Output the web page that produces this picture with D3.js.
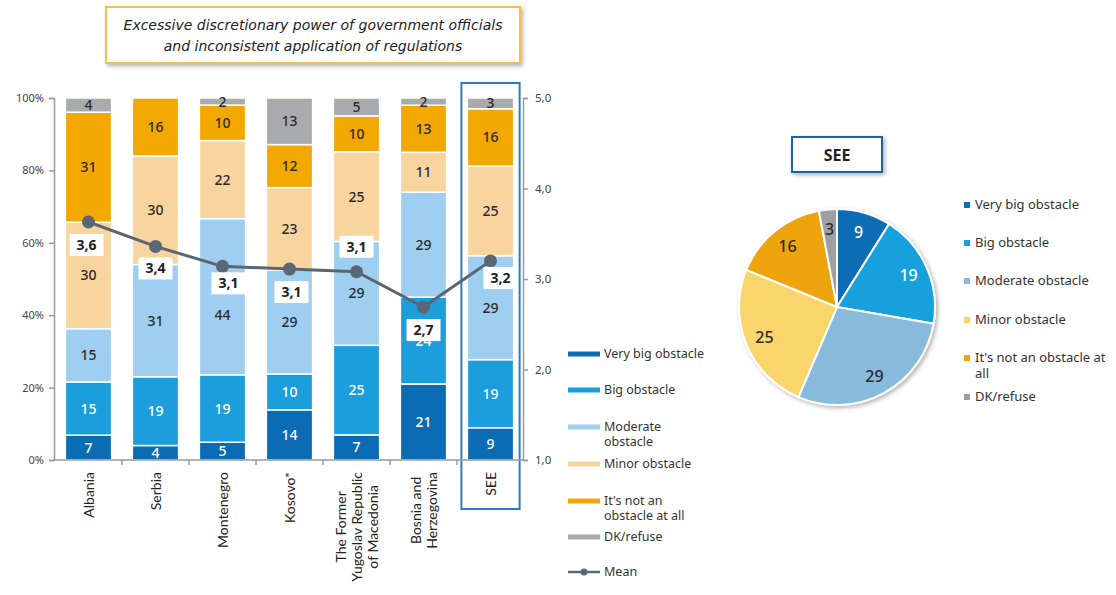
<!DOCTYPE html>
<html>
<head>
<meta charset="utf-8">
<script src="https://cdn.jsdelivr.net/npm/d3@7"></script>
<style>
  body { margin: 0; background: #fff; }
  svg { display: block; }
  text { font-family: "Noto Sans", sans-serif; fill: #333; }
  .axis path, .axis line { stroke: #9a9a9a; stroke-width: 1.5; }
  .axis text { font-size: 11px; fill: #444; }
</style>
</head>
<body>
<div id="chart"></div>
<script>
// countries on the x axis ("\n" = line break)
var countries = ["Albania", "Serbia", "Montenegro", "Kosovo*",
  "The Former\nYugoslav Republic\nof Macedonia", "Bosnia and\nHerzegovina", "SEE"];

var categories = ["Very big obstacle", "Big obstacle", "Moderate obstacle",
  "Minor obstacle", "It's not an obstacle at all", "DK/refuse"];

// series values (percent of respondents)
var veryBig     = [7, 4, 5, 14, 7, 21, 9];
var big         = [15, 19, 19, 10, 25, 24, 19];
var moderate    = [15, 31, 44, 29, 29, 29, 29];
var minor       = [30, 30, 22, 23, 25, 11, 25];
var notObstacle = [31, 16, 10, 12, 10, 13, 16];
var dkRefuse    = [4, 0, 2, 13, 5, 2, 3];

// mean score (right axis, 1-5)
var means = [3.63, 3.36, 3.14, 3.11, 3.08, 2.69, 3.2];

var pctTicks = [0, 0.2, 0.4, 0.6, 0.8, 1];
var meanTicks = [1, 2, 3, 4, 5];

var barColors = ["#0b6bb3", "#1b9edb", "#9ecff0", "#f8d59e", "#f2a800", "#a8aaad"];
var pieColors = ["#0f6db4", "#18a1dc", "#88badc", "#f9d56c", "#eea40f", "#9d9fa2"];

var series = [veryBig, big, moderate, minor, notObstacle, dkRefuse];

var rows = countries.map(function(c, i) {
  var r = { country: c, mean: means[i] };
  categories.forEach(function(k, j) { r[k] = series[j][i]; });
  return r;
});

var width = 1116, height = 595;
var svg = d3.select("#chart").append("svg")
  .attr("width", width)
  .attr("height", height);

var defs = svg.append("defs");
var shadow = defs.append("filter").attr("id", "shadow")
  .attr("x", "-20%").attr("y", "-20%").attr("width", "140%").attr("height", "140%");
shadow.append("feDropShadow").attr("dx", 2).attr("dy", 2)
  .attr("stdDeviation", 2).attr("flood-opacity", 0.3);

// ---- title box
svg.append("rect")
  .attr("x", 106).attr("y", 7).attr("width", 414).attr("height", 56)
  .attr("fill", "#fff").attr("stroke", "#f0c24a").attr("stroke-width", 2)
  .attr("filter", "url(#shadow)");

["Excessive discretionary power of government officials",
 "and inconsistent application of regulations"].forEach(function(l, i) {
  svg.append("text")
    .attr("x", 313).attr("y", 30 + i * 21)
    .attr("text-anchor", "middle")
    .style("font-family", "'DejaVu Sans', sans-serif")
    .style("font-size", "14px").style("font-style", "italic")
    .style("fill", "#222")
    .text(l);
});

// ---- scales
var plotTop = 98, plotBottom = 460, plotLeft = 54, plotRight = 523;

var xScale = d3.scaleBand()
  .domain(countries)
  .range([plotLeft + 1, plotRight + 1])
  .paddingInner(0.31)
  .paddingOuter(0.155);

var yScale = d3.scaleLinear().domain([0, 1]).range([plotBottom, plotTop]);
var yMean = d3.scaleLinear().domain([1, 5]).range([plotBottom, plotTop]);

var stack = d3.stack().keys(categories).offset(d3.stackOffsetExpand);
var stacked = stack(rows);

// ---- highlight box around SEE
svg.append("rect")
  .attr("x", xScale("SEE") - 6).attr("y", 83)
  .attr("width", xScale.bandwidth() + 12).attr("height", 426)
  .attr("fill", "none").attr("stroke", "#2d7cc0").attr("stroke-width", 2);

// ---- bars
var layer = svg.selectAll(".layer")
  .data(stacked)
  .enter().append("g")
  .attr("class", "layer")
  .attr("fill", function(d, i) { return barColors[i]; });

layer.selectAll("rect")
  .data(function(d) { return d; })
  .enter().append("rect")
  .attr("x", function(d) { return xScale(d.data.country); })
  .attr("y", function(d) { return yScale(d[1]); })
  .attr("width", xScale.bandwidth())
  .attr("height", function(d) { return Math.max(0, yScale(d[0]) - yScale(d[1])); })
  .attr("stroke", "#fff")
  .attr("stroke-width", 1.5);

// label nudges where the mean label sits on top of a segment label
var labelNudge = { "Montenegro|Moderate obstacle": 18 };

layer.each(function(s, i) {
  d3.select(this).selectAll("text")
    .data(s.filter(function(d) { return d.data[s.key] > 0; }))
    .enter().append("text")
    .attr("x", function(d) { return xScale(d.data.country) + xScale.bandwidth() / 2; })
    .attr("y", function(d) {
      var n = labelNudge[d.data.country + "|" + s.key] || 0;
      return (yScale(d[0]) + yScale(d[1])) / 2 + 5 + n;
    })
    .attr("text-anchor", "middle")
    .style("font-size", "14px")
    .style("font-weight", 500)
    .style("fill", i < 2 ? "#fff" : "#2b2b2b")
    .text(function(d) { return d.data[s.key]; });
});

// ---- axes
var yAxis = d3.axisLeft(yScale)
  .tickValues(pctTicks)
  .tickSize(5)
  .tickFormat(d3.format(".0%"));
svg.append("g")
  .attr("class", "axis")
  .attr("transform", "translate(" + plotLeft + ",0)")
  .call(yAxis)
  .call(function(g) { g.selectAll("text").attr("x", -10); });

var yAxisRight = d3.axisRight(yMean)
  .tickValues(meanTicks)
  .tickSize(5)
  .tickFormat(function(d) { return d3.format(".1f")(d).replace(".", ","); });
svg.append("g")
  .attr("class", "axis")
  .attr("transform", "translate(" + plotRight + ",0)")
  .call(yAxisRight)
  .call(function(g) { g.selectAll("text").attr("x", 12).style("font-size", "11.5px"); });

var xAxis = svg.append("g")
  .attr("class", "axis")
  .attr("transform", "translate(0," + plotBottom + ")");
xAxis.append("line")
  .attr("x1", plotLeft).attr("x2", plotRight)
  .attr("stroke", "#9a9a9a").attr("stroke-width", 1.5);
xAxis.selectAll(".tick")
  .data(countries.slice(1))
  .enter().append("line")
  .attr("x1", function(d) { return xScale(d) - xScale.step() * xScale.paddingInner() / 2; })
  .attr("x2", function(d) { return xScale(d) - xScale.step() * xScale.paddingInner() / 2; })
  .attr("y1", 0).attr("y2", 5)
  .attr("stroke", "#9a9a9a").attr("stroke-width", 1.5);

// rotated, possibly multi-line country labels
countries.forEach(function(c) {
  var lines = c.split("\n");
  var cx = xScale(c) + xScale.bandwidth() / 2;
  var t = svg.append("text")
    .attr("transform", "translate(" + cx + ",472) rotate(-90)")
    .attr("text-anchor", "middle")
    .style("font-family", "Lato, sans-serif")
    .style("font-size", "14px")
    .style("fill", "#222");
  var spans = lines.map(function(l, i) {
    return t.append("tspan")
      .attr("y", 5 + (i - (lines.length - 1) / 2) * 16)
      .text(l);
  });
  var maxLen = d3.max(spans, function(s) { return s.node().getComputedTextLength(); });
  spans.forEach(function(s) { s.attr("x", -maxLen / 2); });
});

// ---- mean line
var meanDx = [-2, 0, 6, 2, 0, 0, 10];
var meanDy = [23, 22, 17, 23, -25, 23, 17];

var line = d3.line()
  .x(function(d) { return xScale(d.country) + xScale.bandwidth() / 2; })
  .y(function(d) { return yMean(d.mean); });

svg.append("path")
  .datum(rows)
  .attr("d", line)
  .attr("fill", "none")
  .attr("stroke", "#5b6674")
  .attr("stroke-width", 3);

svg.selectAll(".meanDot")
  .data(rows)
  .enter().append("circle")
  .attr("class", "meanDot")
  .attr("cx", function(d) { return xScale(d.country) + xScale.bandwidth() / 2; })
  .attr("cy", function(d) { return yMean(d.mean); })
  .attr("r", 6.5)
  .attr("fill", "#5b6674");

var meanLabel = svg.selectAll(".meanLabel")
  .data(rows)
  .enter().append("g")
  .attr("class", "meanLabel")
  .attr("transform", function(d, i) {
    var x = xScale(d.country) + xScale.bandwidth() / 2 + meanDx[i];
    var y = yMean(d.mean) + meanDy[i];
    return "translate(" + x + "," + y + ")";
  });
meanLabel.append("rect")
  .attr("x", -17).attr("y", -11).attr("width", 34).attr("height", 22)
  .attr("fill", "#fff");
meanLabel.append("text")
  .attr("y", 5)
  .attr("text-anchor", "middle")
  .style("font-size", "14px").style("font-weight", "bold")
  .style("fill", "#222")
  .text(function(d) { return d3.format(".1f")(d.mean).replace(".", ","); });

// ---- middle legend
var legendItems = [
  { lines: ["Very big obstacle"], y: 354 },
  { lines: ["Big obstacle"], y: 390 },
  { lines: ["Moderate", "obstacle"], y: 427 },
  { lines: ["Minor obstacle"], y: 464 },
  { lines: ["It's not an", "obstacle at all"], y: 501 },
  { lines: ["DK/refuse"], y: 537 }
];
var legend = svg.append("g").attr("class", "legend");
legendItems.forEach(function(it, i) {
  legend.append("line")
    .attr("x1", 568).attr("x2", 600)
    .attr("y1", it.y).attr("y2", it.y)
    .attr("stroke", barColors[i]).attr("stroke-width", 5);
  var t = legend.append("text")
    .attr("x", 604).attr("y", it.y + 4)
    .style("font-size", "12.5px");
  it.lines.forEach(function(l, j) {
    t.append("tspan").attr("x", 604).attr("dy", j === 0 ? 0 : 15).text(l);
  });
});
legend.append("line")
  .attr("x1", 568).attr("x2", 600).attr("y1", 572).attr("y2", 572)
  .attr("stroke", "#5b6674").attr("stroke-width", 2.5);
legend.append("circle")
  .attr("cx", 584).attr("cy", 572).attr("r", 3.5).attr("fill", "#5b6674");
legend.append("text")
  .attr("x", 604).attr("y", 576)
  .style("font-size", "12.5px")
  .text("Mean");

// ---- SEE pie
var seeIndex = countries.indexOf("SEE");
var pieData = categories.map(function(k, j) { return { key: k, value: series[j][seeIndex] }; });

svg.append("rect")
  .attr("x", 792).attr("y", 137).attr("width", 90).attr("height", 35)
  .attr("fill", "#fff").attr("stroke", "#1f64a0").attr("stroke-width", 2)
  .attr("filter", "url(#shadow)");
svg.append("text")
  .attr("x", 837).attr("y", 161)
  .attr("text-anchor", "middle")
  .style("font-size", "16px").style("font-weight", "bold")
  .style("fill", "#222")
  .text("SEE");

var pieR = 98;
var pie = d3.pie().sort(null).value(function(d) { return d.value; });
var arc = d3.arc().innerRadius(0).outerRadius(pieR);
var labelArc = d3.arc().innerRadius(pieR * 0.8).outerRadius(pieR * 0.8);

var pieG = svg.append("g")
  .attr("transform", "translate(837,307)");

pieG.append("g")
  .attr("filter", "url(#shadow)")
  .selectAll("path")
  .data(pie(pieData))
  .enter().append("path")
  .attr("d", arc)
  .attr("fill", function(d, i) { return pieColors[i]; })
  .attr("stroke", "#fff")
  .attr("stroke-width", 2);

pieG.selectAll(".pieLabel")
  .data(pie(pieData))
  .enter().append("text")
  .attr("class", "pieLabel")
  .attr("transform", function(d) {
    var c = labelArc.centroid(d);
    return "translate(" + c[0] + "," + (c[1] + 6) + ")";
  })
  .attr("text-anchor", "middle")
  .style("font-size", "16px")
  .style("font-weight", 500)
  .style("fill", function(d, i) { return i < 2 ? "#fff" : "#2b2b2b"; })
  .text(function(d) { return d.data.value; });

// ---- pie legend
var pieLegend = [
  { lines: ["Very big obstacle"], y: 205 },
  { lines: ["Big obstacle"], y: 243 },
  { lines: ["Moderate obstacle"], y: 281 },
  { lines: ["Minor obstacle"], y: 320 },
  { lines: ["It's not an obstacle at", "all"], y: 358 },
  { lines: ["DK/refuse"], y: 397 }
];
pieLegend.forEach(function(it, i) {
  svg.append("rect")
    .attr("x", 964).attr("y", it.y - 3).attr("width", 6).attr("height", 6)
    .attr("fill", pieColors[i]);
  var t = svg.append("text")
    .attr("x", 975).attr("y", it.y + 4)
    .style("font-size", "13px");
  it.lines.forEach(function(l, j) {
    t.append("tspan").attr("x", 975).attr("dy", j === 0 ? 0 : 16).text(l);
  });
});
</script>
</body>
</html>
